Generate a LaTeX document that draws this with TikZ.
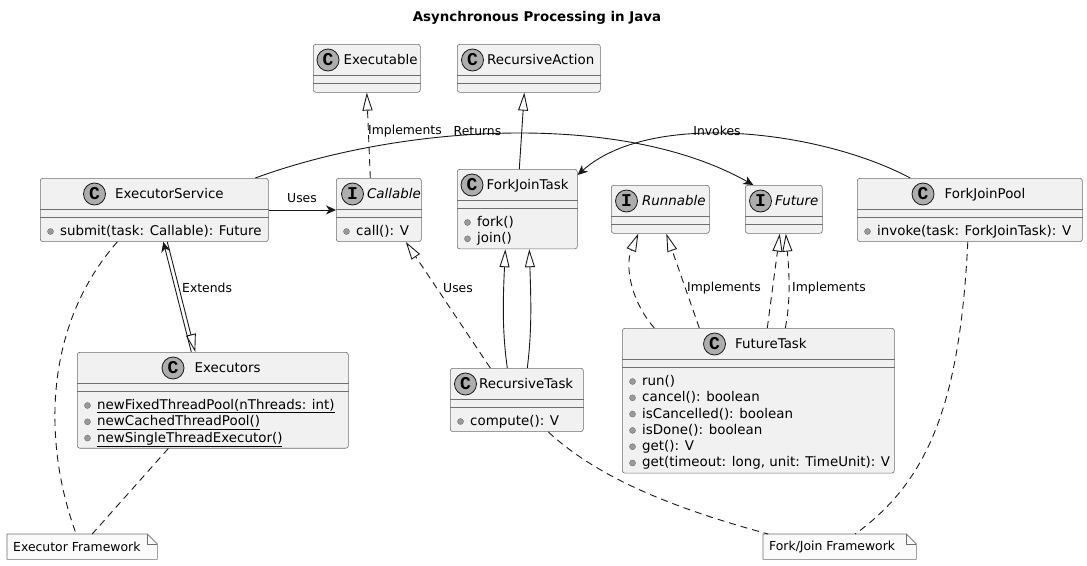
\documentclass[tikz,border=0pt]{standalone}
\usepackage{fontspec}
\setmainfont{DejaVu Sans}
\newfontfamily\iconfont{Liberation Mono}
\usetikzlibrary{arrows.meta, positioning, calc}

\begin{document}
\begin{tikzpicture}[
    every node/.style={font=\fontsize{13.4}{16}\selectfont, inner sep=0pt},
    % pixel grid of the reference: x to the right, y downwards
    x=1pt, y=-1pt,
]

% ---------------------------------------------------------------- colours
\definecolor{boxfill}{HTML}{F1F1F1}
\definecolor{boxline}{HTML}{6E6E6E}
\definecolor{iconfill}{HTML}{ADADAD}
\definecolor{dotfill}{HTML}{9A9A9A}
\definecolor{notefill}{HTML}{FAFAFA}
\definecolor{conncolor}{HTML}{181818}

\tikzset{
    classbox/.style={draw=boxline, fill=boxfill, line width=0.6pt,
                     rounded corners=2.5pt, anchor=north west},
    sepline/.style={boxline, line width=0.6pt},
    icon/.style={circle, draw=conncolor, fill=iconfill, line width=0.8pt,
                 minimum size=22pt,
                 font=\iconfont\bfseries\fontsize{18}{18}\selectfont},
    cname/.style={anchor=west, text height=9.8pt, text depth=0pt},
    iname/.style={cname, font=\fontsize{13.4}{16}\selectfont\itshape},
    member/.style={anchor=west, text height=9.8pt, text depth=0pt},
    dot/.style={circle, draw=boxline, fill=dotfill, line width=0.4pt,
                minimum size=6pt},
    lab/.style={font=\fontsize{12.4}{15}\selectfont},
    conn/.style={conncolor, line width=0.9pt},
    dlink/.style={conn, dash pattern=on 7pt off 5pt},
    uses/.style={conn, -{Stealth[length=10pt, width=9pt, inset=3pt]}},
    extends/.style={conn, -{Triangle[open, length=18pt, width=10pt]}},
    notebox/.style={draw=boxline, fill=notefill, line width=0.6pt},
}

\useasboundingbox (0,0) rectangle (1087,565);

% ---------------------------------------------------------------- title
\node[font=\fontsize{13.4}{16}\selectfont\bfseries] (title) at (537,18)
    {Asynchronous Processing in Java};

% ---------------------------------------------------------------- class boxes
% name/left/top/width/number of methods
\foreach \n/\x/\y/\w/\k in {exec/313/44/107/0, recact/457/44/143/0,
        execsvc/40/178/228/1, callable/336/178/85/1, fjtask/457/169/120/2,
        runnable/611/185/98/0, future/745/185/77/0, fjpool/857/178/225/1,
        execs/77/352/271/3, rectask/450/368/133/1, futtask/622/328/272/6} {
    \pgfmathsetmacro\h{\k==0 ? 48 : 47+16.3*\k}
    \node[classbox, minimum width=\w pt, minimum height=\h pt] (\n) at (\x,\y) {};
    \draw[sepline] ([yshift=-31pt]\n.north west) -- ([yshift=-31pt]\n.north east);
    \draw[sepline] ([yshift=-39pt]\n.north west) -- ([yshift=-39pt]\n.north east);
}

% headers: icon centre, gap, name
\foreach \n/\l/\st/\txt/\cx/\cy/\g in {exec/C/cname/Executable/328/60/4,
        recact/C/cname/RecursiveAction/472.5/60/3,
        execsvc/C/cname/ExecutorService/94.5/194/9,
        callable/I/iname/Callable/352.5/194/3,
        fjtask/C/cname/ForkJoinTask/472/185/3,
        runnable/I/iname/Runnable/626.5/201/4,
        future/I/iname/Future/760.5/201/3,
        fjpool/C/cname/ForkJoinPool/923/194/10,
        execs/C/cname/Executors/173/368/10,
        rectask/C/cname/RecursiveTask/465.5/384/2,
        futtask/C/cname/FutureTask/714.5/344/9} {
    \node[icon] (\n-icon) at (\cx,\cy) {\l};
    \node[\st, right=\g pt of \n-icon] (\n-name) {\txt};
}

% ---------------------------------------------------------------- methods
\foreach \n/\ms in {execsvc/{submit(task: Callable): Future},
        callable/{call(): V},
        fjtask/{fork(), join()},
        fjpool/{invoke(task: ForkJoinTask): V},
        execs/{\underline{newFixedThreadPool(nThreads: int)},
               \underline{newCachedThreadPool()},
               \underline{newSingleThreadExecutor()}},
        rectask/{compute(): V},
        futtask/{run(), cancel(): boolean, isCancelled(): boolean,
                 isDone(): boolean, get(): V,
                 {get(timeout: long, unit: TimeUnit): V}}} {
    \foreach \m [count=\i] in \ms {
        \node[dot] (\n-d\i) at ($(\n.north west)+(10.5,{53.5+16.3*(\i-1)})$) {};
        \node[member] (\n-m\i) at ($(\n.north west)+(20,{52.5+16.3*(\i-1)})$) {\m};
    }
}

% ---------------------------------------------------------------- notes
\foreach \n/\x/\w/\txt in {exnote/7/150/Executor Framework,
        fjnote/763/153/{Fork/Join Framework}} {
    \node[minimum width=\w pt, minimum height=25pt, anchor=north west]
        (\n) at (\x,534) {};
    \draw[notebox] (\n.north west) -- ([xshift=-10pt]\n.north east)
        -- ([yshift=-10pt]\n.north east) -- (\n.south east)
        -- (\n.south west) -- cycle;
    \draw[notebox, fill=none] ([xshift=-10pt]\n.north east)
        |- ([yshift=-10pt]\n.north east);
    \node[lab, anchor=west] (\n-t) at ([xshift=6pt]\n.west) {\txt};
}

% ---------------------------------------------------------------- links, top row
\draw[dlink, extends] ([xshift=-8.5pt]callable.north) -- (exec.south);
\node[lab, anchor=west] (l-impl1) at (368,131) {Implements};

\draw[extends] ([xshift=2pt]fjtask.north) -- ([xshift=-4.5pt]recact.south);

\draw[uses] (execsvc.east) -- (callable.west);
\node[lab] (l-uses1) at (302,198) {Uses};

\draw[uses] ([xshift=101pt]execsvc.north) .. controls (400,125) and (620,110)
    .. ([xshift=-30.5pt]future.north);
\node[lab] (l-ret) at (477.5,131) {Returns};

\draw[uses] ([xshift=-59.5pt]fjpool.north) .. controls (820,130) and (650,110)
    .. ([yshift=-6pt]fjtask.north east);
\node[lab] (l-inv) at (717,131) {Invokes};

% ---------------------------------------------------------------- links, lower row
\draw[uses] ([xshift=-21.5pt]execs.north) -- ([xshift=9pt]execsvc.south);
\draw[extends] ([xshift=13pt]execsvc.south) -- ([xshift=-17.5pt]execs.north);
\node[lab, anchor=west] (l-ext) at (182,288) {Extends};

\draw[extends] ([xshift=-9.5pt]rectask.north) .. controls (502,330) and (503,300)
    .. ([xshift=-12pt]fjtask.south);
\draw[extends] ([xshift=10.5pt]rectask.north) .. controls (532,330) and (531,300)
    .. ([xshift=12pt]fjtask.south);

\draw[dlink, extends] ([xshift=-26.5pt]rectask.north) -- ([xshift=27pt]callable.south);
\node[lab, anchor=west] (l-uses2) at (443,288) {Uses};

\draw[dlink, extends] ([xshift=-104pt]futtask.north) .. controls (630,300) and (625,265)
    .. ([xshift=-22pt]runnable.south);
\draw[dlink, extends] ([xshift=-59pt]futtask.north) -- ([xshift=6pt]runnable.south);
\node[lab, anchor=west] (l-impl2) at (687,288) {Implements};

\draw[dlink, extends] ([xshift=9pt]futtask.north) -- ([xshift=-4pt]future.south);
\draw[dlink, extends] ([xshift=27pt]futtask.north) .. controls (791,300) and (789,270)
    .. ([xshift=2pt]future.south);
\node[lab, anchor=west] (l-impl3) at (792,288) {Implements};

% ---------------------------------------------------------------- note links
\draw[dlink] ([xshift=-37pt]execsvc.south) .. controls (40,330) and (45,450)
    .. ([xshift=-6pt]exnote.north);
\draw[dlink] ([xshift=-44.5pt]execs.south) -- ([xshift=10pt]exnote.north);
\draw[dlink] ([xshift=31.5pt]rectask.south) .. controls (600,480) and (680,510)
    .. ([xshift=-71.5pt]fjnote.north);
\draw[dlink] ([xshift=-2pt]fjpool.south) .. controls (960,400) and (930,480)
    .. ([xshift=15.5pt]fjnote.north);

\end{tikzpicture}
\end{document}
